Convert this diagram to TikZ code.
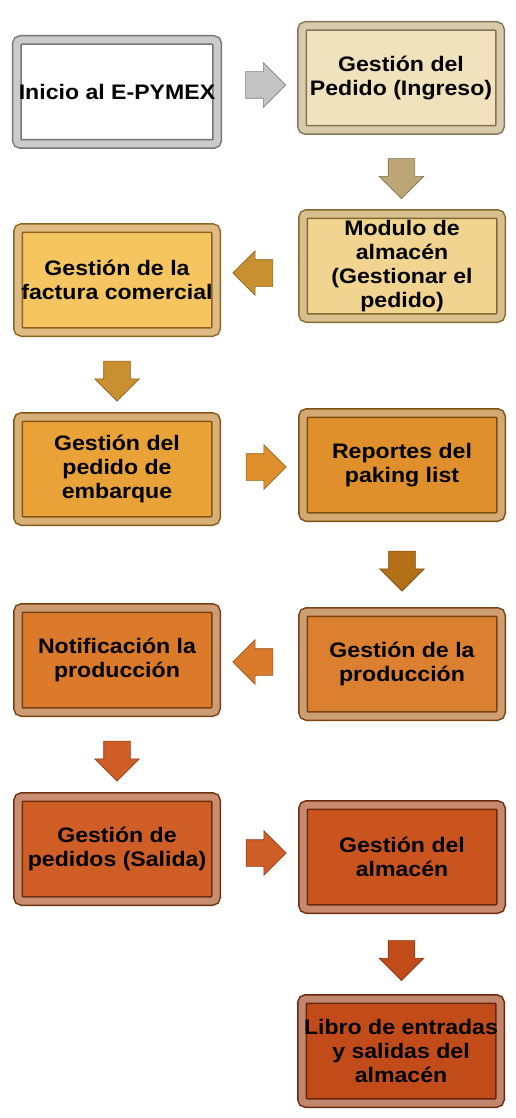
\documentclass[tikz,border=0pt]{standalone}
\usepackage{fontspec}
\setmainfont[FakeStretch=1.1]{Liberation Sans}
\usepackage{tikz}
\usetikzlibrary{positioning, shapes.arrows, shadows, calc}
\definecolor{grisM}{HTML}{A8A8A8}
\definecolor{grisF}{HTML}{C4C4C4}
\definecolor{pasoA}{HTML}{F0E2BC}
\definecolor{marcoA}{HTML}{BCA676}
\definecolor{pasoB}{HTML}{F0D490}
\definecolor{marcoB}{HTML}{BC9442}
\definecolor{pasoC}{HTML}{F5C560}
\definecolor{marcoC}{HTML}{C99030}
\definecolor{pasoD}{HTML}{E8A238}
\definecolor{marcoD}{HTML}{BC7C1C}
\definecolor{pasoE}{HTML}{DF902C}
\definecolor{marcoE}{HTML}{B47016}
\definecolor{pasoF}{HTML}{DA7A2A}
\definecolor{marcoF}{HTML}{AC5A16}
\definecolor{pasoG}{HTML}{DB7F30}
\definecolor{marcoG}{HTML}{AC5E18}
\definecolor{pasoH}{HTML}{CE5D26}
\definecolor{marcoH}{HTML}{A24212}
\definecolor{pasoI}{HTML}{C9541E}
\definecolor{marcoI}{HTML}{9E3C10}
\definecolor{pasoJ}{HTML}{C24B1A}
\definecolor{marcoJ}{HTML}{96360E}

\begin{document}
\begin{tikzpicture}[x=1pt, y=-1pt, font=\bfseries\fontsize{21}{24}\selectfont,
  paso/.style={rectangle, rounded corners=4pt, minimum width=198pt, minimum height=104pt,
    inner sep=2pt, align=center, line width=1.5pt, double distance=7pt,
    drop shadow={opacity=0.3, shadow xshift=3pt, shadow yshift=-3pt}},
  flecha/.style={single arrow, single arrow head extend=9pt, minimum height=40pt,
    minimum width=44pt, inner sep=13pt, line width=0.6pt}]
  \useasboundingbox (0,0) rectangle (516,1118);
  \foreach \nm/\x/\y/\col/\fr/\txt in {
    inicio/117/92/white/grisM/{Inicio al E-PYMEX},
    ingreso/401/78/pasoA/marcoA/{Gesti\'on del\\Pedido (Ingreso)},
    modulo/402/266/pasoB/marcoB/{Modulo de\\almac\'en\\(Gestionar el\\pedido)},
    factura/117/280/pasoC/marcoC/{Gesti\'on de la\\factura comercial},
    embarque/117/469/pasoD/marcoD/{Gesti\'on del\\pedido de\\embarque},
    paking/402/465/pasoE/marcoE/{Reportes del\\paking list},
    notif/117/660/pasoF/marcoF/{Notificaci\'on la\\producci\'on},
    produccion/402/664/pasoG/marcoG/{Gesti\'on de la\\producci\'on},
    salida/117/849/pasoH/marcoH/{Gesti\'on de\\pedidos (Salida)},
    almacen/402/857/pasoI/marcoI/{Gesti\'on del\\almac\'en},
    libro/401/1051/pasoJ/marcoJ/{Libro de entradas\\y salidas del\\almac\'en}}{
    \node[paso, fill=\col, draw=\fr!70!black, double=\fr!60!white] (\nm) at (\x,\y) {\txt};
  }
  % flechas entre pasos
  \foreach \a/\b/\dir/\col [count=\i] in {
    inicio/ingreso/0/grisF,
    ingreso/modulo/270/marcoA,
    modulo/factura/180/marcoC,
    factura/embarque/270/marcoC,
    embarque/paking/0/pasoE,
    paking/produccion/270/marcoE,
    produccion/notif/180/pasoF,
    notif/salida/270/pasoH,
    salida/almacen/0/pasoH,
    almacen/libro/270/pasoJ}{
    \node[flecha, fill=\col, draw=\col!65!black, shape border rotate=\dir] (f\i) at ($(\a)!0.5!(\b)$) {};
  }
\end{tikzpicture}
\end{document}
